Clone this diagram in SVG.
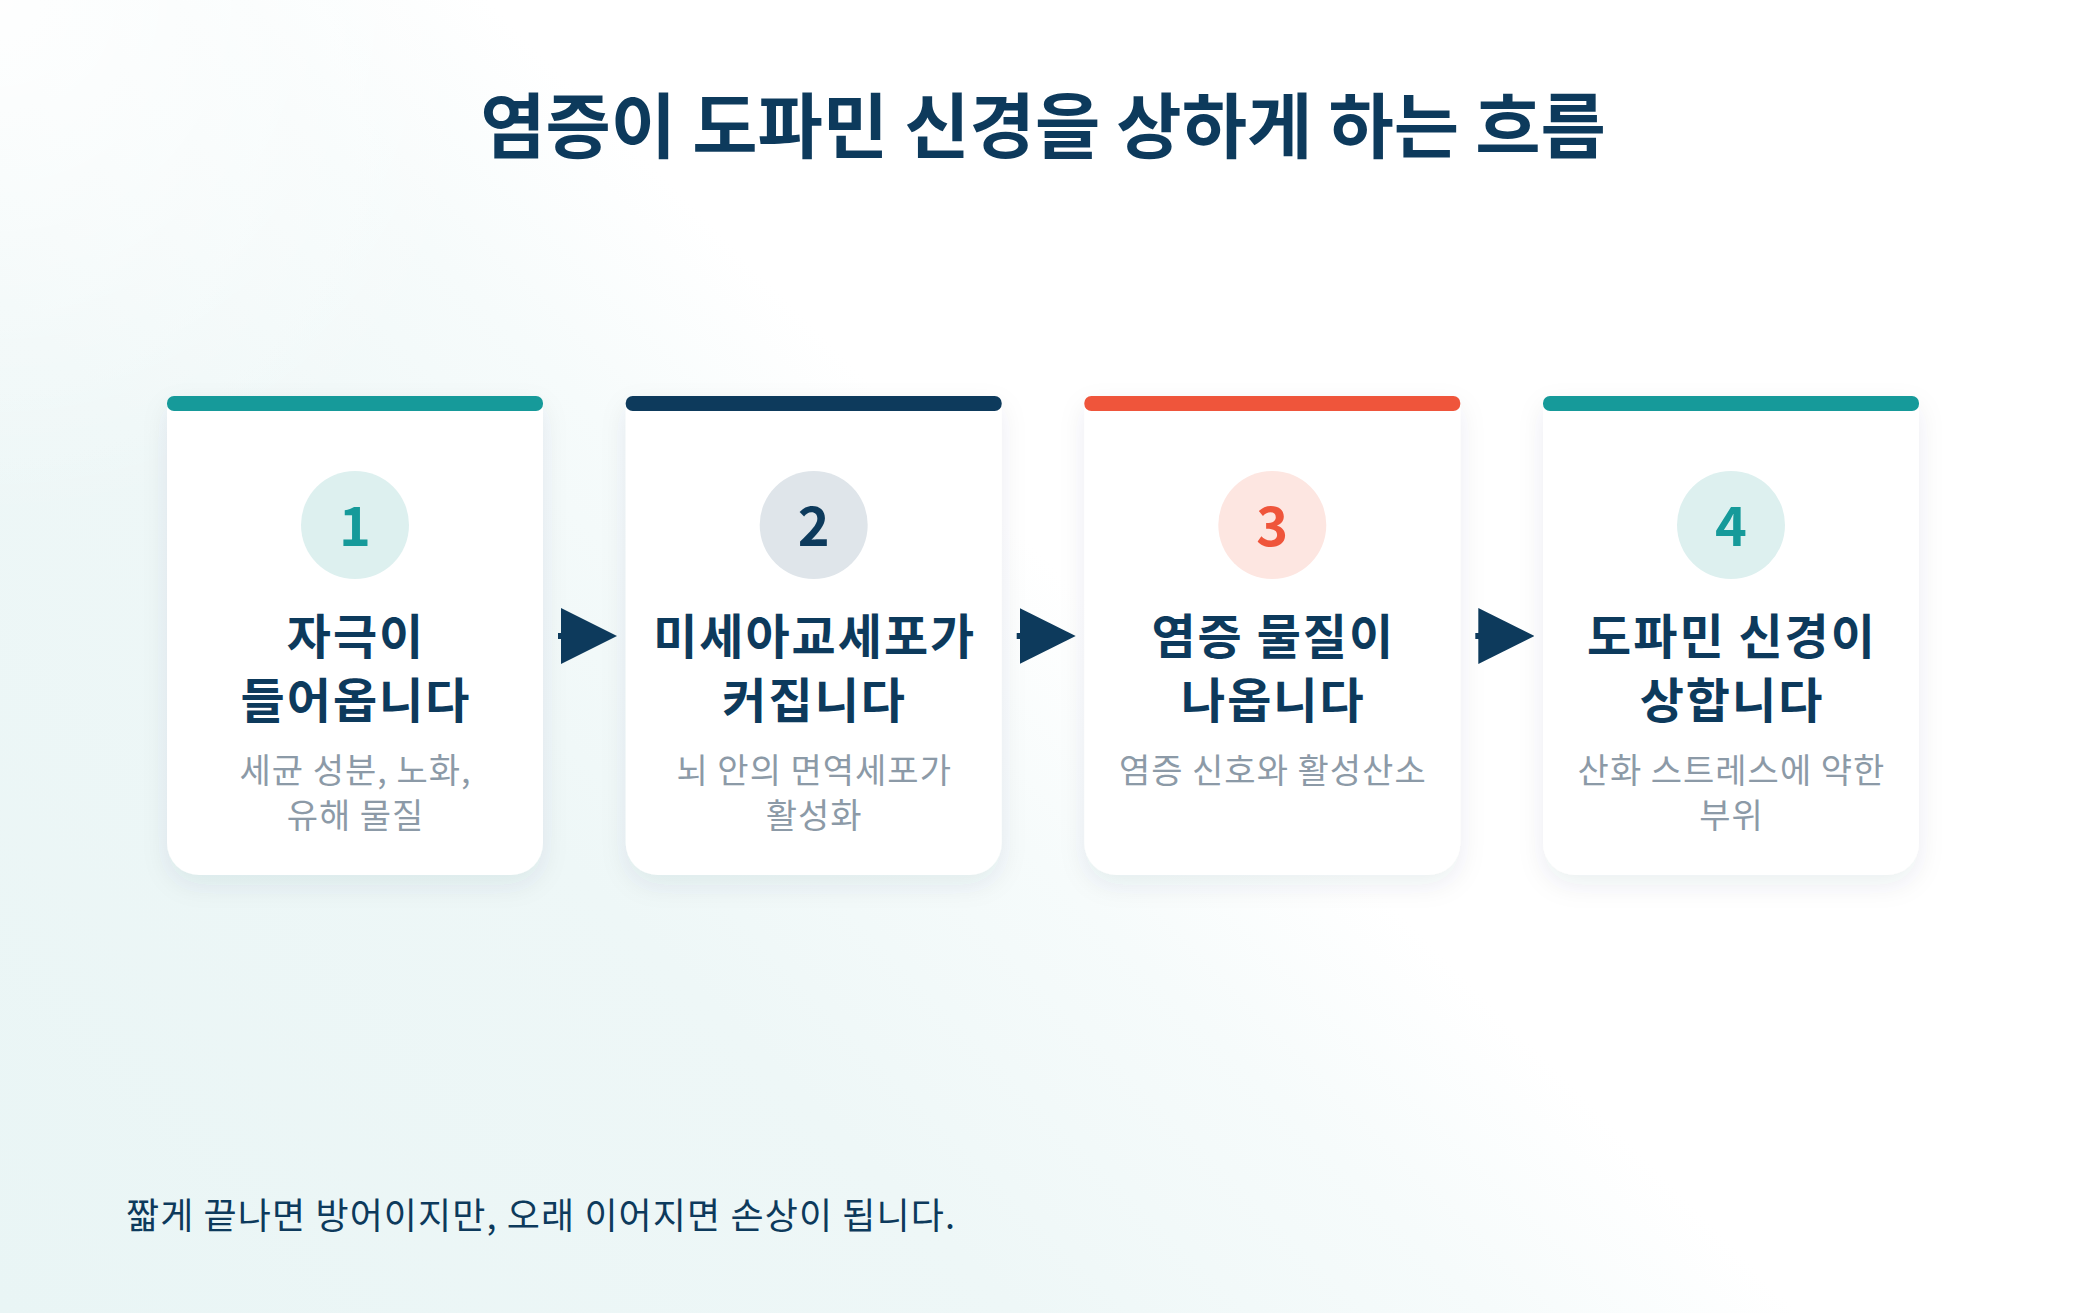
<svg xmlns="http://www.w3.org/2000/svg" width="2083" height="1313" viewBox="0 0 2083 1313">
  <defs>
    <linearGradient id="bg" gradientUnits="userSpaceOnUse" x1="192" y1="1505" x2="1890" y2="-192">
      <stop offset="0" stop-color="#e9f5f5"/>
      <stop offset="0.3" stop-color="#eef7f7"/>
      <stop offset="0.44" stop-color="#f6fbfb"/>
      <stop offset="0.53" stop-color="#ffffff"/>
      <stop offset="1" stop-color="#ffffff"/>
    </linearGradient>
    <radialGradient id="glow" gradientUnits="userSpaceOnUse" cx="0" cy="0" r="520">
      <stop offset="0" stop-color="#ffffff" stop-opacity="0.9"/>
      <stop offset="1" stop-color="#ffffff" stop-opacity="0"/>
    </radialGradient>
    <filter id="shadow" x="-20%" y="-20%" width="140%" height="140%">
      <feDropShadow dx="0" dy="10" stdDeviation="13" flood-color="#1d3f5e" flood-opacity="0.08"/>
    </filter>
    <path id="cardShape" d="M10,0 H366 A10,10 0 0 1 376,10 V447 A32,32 0 0 1 344,479 H32 A32,32 0 0 1 0,447 V10 A10,10 0 0 1 10,0 Z"/>
    <marker id="arrowHead" markerUnits="userSpaceOnUse" markerWidth="56" markerHeight="56" viewBox="0 0 56 56" refX="2" refY="28" orient="auto">
      <path d="M0,0 L56,28 L0,56 Z" fill="#0d3a5c"/>
    </marker>
    <style>
      text { font-family: "Noto Sans CJK KR", "Noto Sans", sans-serif; }
      .title { font-size: 71px; font-weight: 700; fill: #0d3a5c; text-anchor: middle; }
      .card { fill: #ffffff; filter: url(#shadow); }
      .num { font-size: 54px; font-weight: 700; text-anchor: middle; }
      .head { font-size: 48px; font-weight: 700; fill: #0d3a5c; text-anchor: middle; letter-spacing: 2px; }
      .sub { font-size: 34px; font-weight: 400; fill: #8c9aa7; text-anchor: middle; letter-spacing: 1px; }
      .foot { font-size: 36px; font-weight: 400; fill: #0d3a5c; letter-spacing: 1.1px; }
      .conn { stroke: #0d3a5c; stroke-width: 6; fill: none; marker-end: url(#arrowHead); }
    </style>
  </defs>

  <rect x="0" y="0" width="2083" height="1313" fill="url(#bg)"/>
  <rect x="0" y="0" width="2083" height="1313" fill="url(#glow)"/>

  <text class="title" x="1043" y="152">염증이 도파민 신경을 상하게 하는 흐름</text>

  <g id="step1" transform="translate(167,396)">
    <use href="#cardShape" class="card"/>
    <rect x="0" y="0" width="376" height="15" rx="7" fill="#169a9a"/>
    <circle cx="188" cy="129" r="54" fill="#ddf0ef"/>
    <text class="num" x="188" y="150" fill="#169a9a">1</text>
    <text class="head" x="189" y="258">자극이</text>
    <text class="head" x="189" y="322">들어옵니다</text>
    <text class="sub" x="188.5" y="387">세균 성분, 노화,</text>
    <text class="sub" x="188.5" y="432">유해 물질</text>
  </g>

  <g id="step2" transform="translate(625.7,396)">
    <use href="#cardShape" class="card"/>
    <rect x="0" y="0" width="376" height="15" rx="7" fill="#0d3a5c"/>
    <circle cx="188" cy="129" r="54" fill="#dfe5ea"/>
    <text class="num" x="188" y="150" fill="#0d3a5c">2</text>
    <text class="head" x="189" y="258">미세아교세포가</text>
    <text class="head" x="189" y="322">커집니다</text>
    <text class="sub" x="188.5" y="387">뇌 안의 면역세포가</text>
    <text class="sub" x="188.5" y="432">활성화</text>
  </g>

  <g id="step3" transform="translate(1084.3,396)">
    <use href="#cardShape" class="card"/>
    <rect x="0" y="0" width="376" height="15" rx="7" fill="#ef553b"/>
    <circle cx="188" cy="129" r="54" fill="#fde6e1"/>
    <text class="num" x="188" y="150" fill="#ef553b">3</text>
    <text class="head" x="189" y="258">염증 물질이</text>
    <text class="head" x="189" y="322">나옵니다</text>
    <text class="sub" x="188.5" y="387">염증 신호와 활성산소</text>
  </g>

  <g id="step4" transform="translate(1543,396)">
    <use href="#cardShape" class="card"/>
    <rect x="0" y="0" width="376" height="15" rx="7" fill="#169a9a"/>
    <circle cx="188" cy="129" r="54" fill="#ddf0ef"/>
    <text class="num" x="188" y="150" fill="#169a9a">4</text>
    <text class="head" x="189" y="258">도파민 신경이</text>
    <text class="head" x="189" y="322">상합니다</text>
    <text class="sub" x="188.5" y="387">산화 스트레스에 약한</text>
    <text class="sub" x="188.5" y="432">부위</text>
  </g>

  <g id="connectors">
    <line class="conn" x1="558" y1="636" x2="563" y2="636"/>
    <line class="conn" x1="1016.7" y1="636" x2="1021.7" y2="636"/>
    <line class="conn" x1="1475.3" y1="636" x2="1480.3" y2="636"/>
  </g>

  <text class="foot" x="126" y="1229">짧게 끝나면 방어이지만, 오래 이어지면 손상이 됩니다.</text>
</svg>
